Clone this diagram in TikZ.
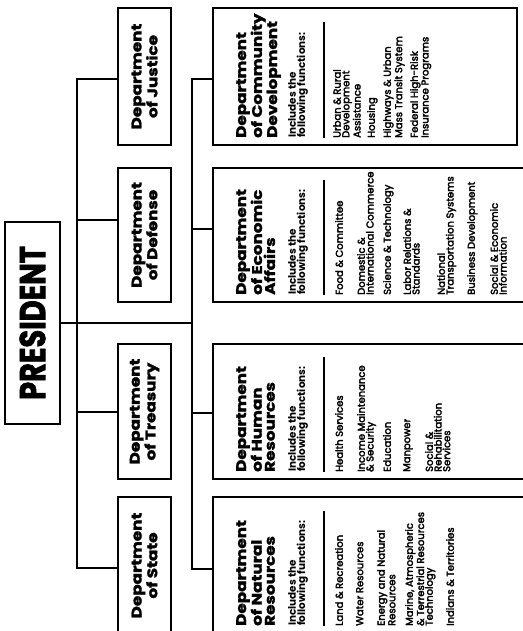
\documentclass[tikz,border=0pt]{standalone}
\usepackage{fontspec}
\setmainfont{Poppins}
\newfontfamily\titlefont{Poppins}[FakeStretch=1.2,FakeBold=2]
\newfontfamily\presfont{Poppins}[FakeStretch=0.8,FakeBold=2]
\newfontfamily\itemfont{Poppins}[FakeBold=3]
\newfontfamily\hdrfont{Poppins}
\begin{document}
\begin{tikzpicture}[x=1pt,y=1pt,
  box/.style={draw, line width=1.2pt, inner sep=0pt},
  link/.style={line width=2.3pt},
  rule/.style={line width=1.3pt},
  ttlA/.style={rotate=90, inner sep=0pt, align=center,
    font=\titlefont\bfseries\fontsize{14}{13}\selectfont},
  ttlB/.style={rotate=90, inner sep=0pt, align=left, anchor=north west,
    font=\titlefont\bfseries\fontsize{14}{13}\selectfont},
  hdr/.style={rotate=90, inner sep=0pt, align=left, anchor=north west,
    font=\hdrfont\bfseries\fontsize{10.4}{9.2}\selectfont},
  itm/.style={rotate=90, inner sep=0pt, align=left, anchor=north west,
    font=\itemfont\fontsize{10}{8.7}\selectfont}]
\fill[white] (0,0) rectangle (522,-631);
\useasboundingbox (0,0) rectangle (522,-631);

% President
\node[box, line width=1.4pt, minimum width=55pt, minimum height=202pt] (pres) at (32.5,-323) {};
\node[rotate=90, inner sep=0pt, font=\presfont\bfseries\fontsize{36}{36}\selectfont] (presT) at (pres.center) {PRESIDENT};

% Row 1 boxes
\node[box, minimum width=53pt, minimum height=137pt] (justice) at (144.5,-76.5) {};
\node[box, minimum width=53pt, minimum height=134pt] (defense) at (144.5,-235) {};
\node[box, minimum width=53pt, minimum height=135pt] (treasury) at (144.5,-411.5) {};
\node[box, minimum width=53pt, minimum height=137pt] (state) at (144.5,-565.5) {};
\node[ttlA] (justiceT) at (justice.center) {Department\\of Justice};
\node[ttlA] (defenseT) at (defense.center) {Department\\of Defense};
\node[ttlA] (treasuryT) at (treasury.center) {Department\\of Treasury};
\node[ttlA] (stateT) at (state.center) {Department\\of State};

% Row 2 boxes
\node[box, minimum width=304pt, minimum height=137pt] (comm) at (365,-76.5) {};
\node[box, minimum width=317pt, minimum height=134pt] (econ) at (371.5,-235) {};
\node[box, minimum width=317pt, minimum height=135pt] (human) at (371.5,-411.5) {};
\node[box, minimum width=317pt, minimum height=137pt] (natural) at (371.5,-565.5) {};

% Connectors
\coordinate (b1t) at (77,-79);
\coordinate (b1d) at (77,-220);
\coordinate (b1r) at (77,-412);
\coordinate (b1b) at (77,-568);
\coordinate (b2t) at (192,-79);
\coordinate (b2e) at (192,-229);
\coordinate (b2h) at (192,-413);
\coordinate (b2b) at (192,-569);
\draw[link] (b1t -| justice.west) -- (b1t) -- (b1b) -- (b1b -| state.west);
\draw[link] (b1d) -- (b1d -| defense.west);
\draw[link] (b1r) -- (b1r -| treasury.west);
\draw[link] (b2t -| comm.west) -- (b2t) -- (b2b) -- (b2b -| natural.west);
\draw[link] (b2e) -- (b2e -| econ.west);
\draw[link] (b2h) -- (b2h -| human.west);
\draw[link] (pres.east) -- (pres.east -| b2t);

% Community Development (content starts at y=138)
\node[ttlB] (commT) at (236,-138) {Department\\of Community\\Development};
\node[hdr] (commH) at (288,-138) {Includes the\\following functions:};
\coordinate (commR1) at (324,-138);
\coordinate (commR2) at (324,-22);
\draw[rule] (commR1) -- (commR2);
\node[itm] (c1) at (333,-138) {Urban \& Rural\\Development\\Assistance};
\node[itm] (c2) at (367,-138) {Housing};
\node[itm] (c3) at (383,-138) {Highways \& Urban\\Mass Transit System};
\node[itm] (c4) at (410,-138) {Federal High-Risk\\Insurance Programs};

% Economic Affairs (start y=295)
\node[ttlB] (econT) at (236,-295) {Department\\of Economic\\Affairs};
\node[hdr] (econH) at (288,-295) {Includes the\\following functions:};
\coordinate (econR1) at (324,-295);
\coordinate (econR2) at (324,-180);
\draw[rule] (econR1) -- (econR2);
\node[itm] (e1) at (335,-295) {Food \& Committee};
\node[itm] (e2) at (357,-295) {Domestic \&\\International Commerce};
\node[itm] (e3) at (383,-295) {Science \& Technology};
\node[itm] (e4) at (403,-295) {Labor Relations \&\\Standards};
\node[itm] (e5) at (437,-295) {National\\Transportation Systems};
\node[itm] (e6) at (467,-295) {Business Development};
\node[itm] (e7) at (490,-295) {Social \& Economic\\Information};

% Human Resources (start y=472)
\node[ttlB] (humanT) at (236,-472) {Department\\of Human\\Resources};
\node[hdr] (humanH) at (288,-472) {Includes the\\following functions:};
\coordinate (humanR1) at (324,-472);
\coordinate (humanR2) at (324,-357);
\draw[rule] (humanR1) -- (humanR2);
\node[itm] (h1) at (335,-472) {Health Services};
\node[itm] (h2) at (357,-472) {Income Maintenance\\\& Security};
\node[itm] (h3) at (383,-472) {Education};
\node[itm] (h4) at (403,-472) {Manpower};
\node[itm] (h5) at (425,-472) {Social \&\\Rehabilitation\\Services};

% Natural Resources (start y=626)
\node[ttlB] (natT) at (236,-626) {Department\\of Natural\\Resources};
\node[hdr] (natH) at (288,-626) {Includes the\\following functions:};
\coordinate (natR1) at (324,-626);
\coordinate (natR2) at (324,-511);
\draw[rule] (natR1) -- (natR2);
\node[itm] (n1) at (335,-626) {Land \& Recreation};
\node[itm] (n2) at (356,-626) {Water Resources};
\node[itm] (n3) at (377,-626) {Energy and Natural\\Resources};
\node[itm] (n4) at (405,-626) {Marine, Atmospheric\\\& Terrestrial Resources\\Technology};
\node[itm] (n5) at (446,-626) {Indians \& Territories};
\end{tikzpicture}
\end{document}
